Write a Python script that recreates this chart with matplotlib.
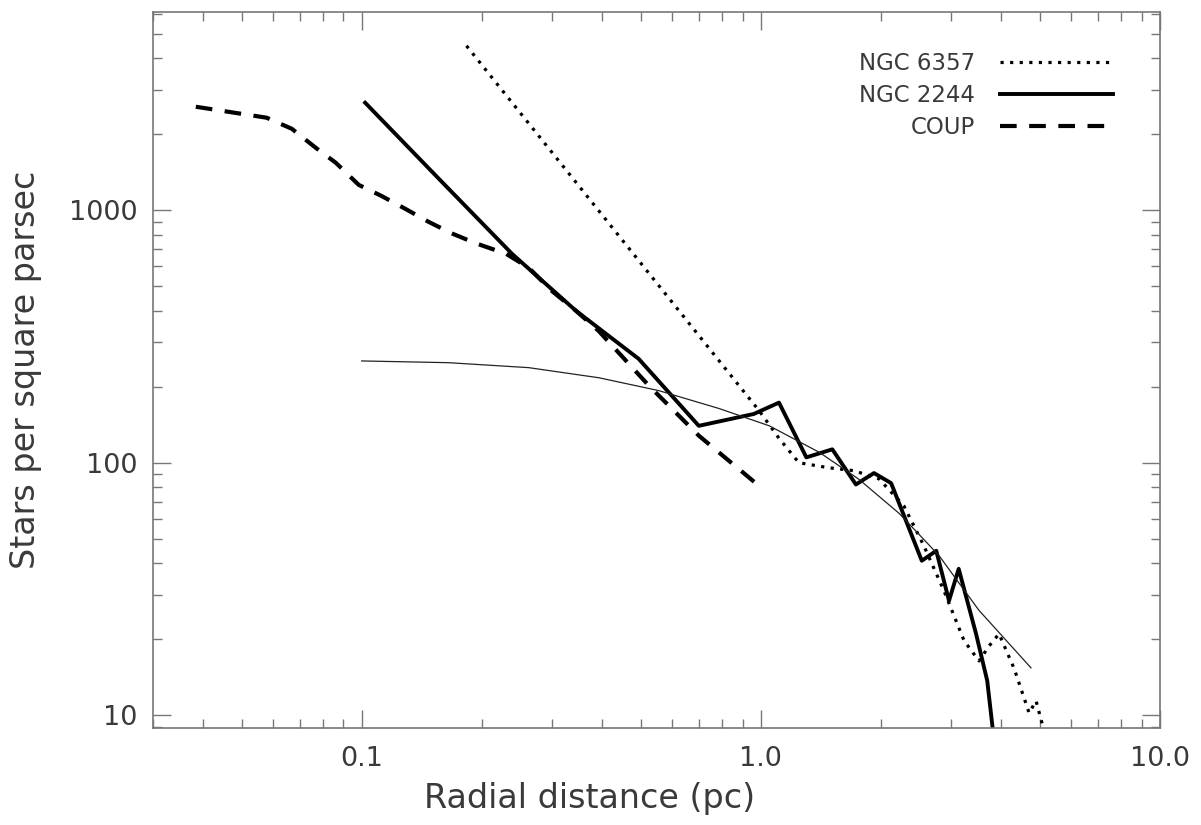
import matplotlib
matplotlib.use('Agg')
import matplotlib.pyplot as plt
from matplotlib.ticker import FixedLocator, FixedFormatter, LogLocator, NullFormatter

# NGC 6357 surface density (dotted)
ngc6357_r = [0.183, 0.989, 1.11, 1.245, 1.48, 1.71, 1.975, 2.28, 2.56, 2.875,
             3.23, 3.52, 3.73, 3.95, 4.31, 4.70, 4.89, 5.12]
ngc6357_n = [4480, 161, 125, 100, 95.5, 93, 86.4, 67.6, 46.9, 31.1,
             19.7, 16.4, 18.8, 21.0, 15.3, 10.2, 11.4, 8.7]

# NGC 2244 (thick solid)
ngc2244_r = [0.102, 0.156, 0.238, 0.344, 0.494, 0.699, 0.960, 1.11, 1.30, 1.51,
             1.73, 1.92, 2.12, 2.53, 2.75, 2.96, 3.13, 3.46, 3.69, 3.84]
ngc2244_n = [2666, 1333, 672, 400, 258, 140, 156, 173, 105, 113,
             82, 91, 83, 40.9, 44.8, 28.4, 38.0, 21.0, 13.7, 7.9]

# COUP (dashed)
coup_r = [0.0384, 0.0578, 0.0668, 0.0767, 0.0861, 0.0983, 0.112, 0.129, 0.147, 0.168,
          0.193, 0.230, 0.262, 0.299, 0.344, 0.392, 0.524, 0.699, 0.989]
coup_n = [2570, 2325, 2102, 1768, 1542, 1260, 1140, 1010, 900, 810,
          740, 672, 592, 480, 400, 333, 202, 128, 81]

# thin model curve
fit_r = [0.1, 0.165, 0.262, 0.393, 0.555, 0.785, 1.05, 1.40, 1.76, 2.22, 2.79, 3.52, 4.75]
fit_n = [253, 249, 238, 217, 193, 164, 140, 110, 86, 63, 43, 26, 15.4]

x_ticks = [0.1, 1.0, 10.0]
x_labels = ['0.1', '1.0', '10.0']
y_ticks = [10, 100, 1000]
y_labels = ['10', '100', '1000']

txt = '#3a3a3a'
axc = '#777777'

fig = plt.figure(figsize=(12.01, 8.25), dpi=100)
ax = fig.add_axes([0.1274, 0.1176, 0.8385, 0.8679])
ax.set_xscale('log')
ax.set_yscale('log')

h1, = ax.plot(ngc6357_r, ngc6357_n, color='black', lw=2.3, linestyle=(0, (1, 2)),
              label='NGC 6357')
h2, = ax.plot(ngc2244_r, ngc2244_n, color='black', lw=2.8, label='NGC 2244')
h3, = ax.plot(coup_r, coup_n, color='black', lw=3, linestyle=(0, (4, 3)), label='COUP')
ax.plot(fit_r, fit_n, color='#222222', lw=0.9)

ax.set_xlim(0.03, 10)
ax.set_ylim(8.9, 6100)

ax.xaxis.set_major_locator(FixedLocator(x_ticks))
ax.xaxis.set_major_formatter(FixedFormatter(x_labels))
ax.yaxis.set_major_locator(FixedLocator(y_ticks))
ax.yaxis.set_major_formatter(FixedFormatter(y_labels))
for a in (ax.xaxis, ax.yaxis):
    a.set_minor_locator(LogLocator(base=10, subs=range(2, 10)))
    a.set_minor_formatter(NullFormatter())

ax.tick_params(which='both', direction='in', top=True, right=True, color=axc, width=1)
ax.tick_params(which='major', length=13, labelsize=19.5, labelcolor=txt)
ax.tick_params(which='minor', length=6.5)
ax.tick_params(axis='x', which='major', pad=13)
ax.tick_params(axis='y', which='major', pad=11)
for s in ax.spines.values():
    s.set_color(axc)
    s.set_linewidth(1.2)

ax.set_xlabel('Radial distance (pc)', fontsize=24, color=txt)
ax.xaxis.set_label_coords(0.434, -0.075)
ax.set_ylabel('Stars per square parsec', fontsize=24, color=txt)
ax.yaxis.set_label_coords(-0.11, 0.5)

leg = ax.legend(handles=[h1, h2, h3], loc='upper right', bbox_to_anchor=(0.953, 0.944),
                frameon=False, markerfirst=False, fontsize=16.5, borderpad=0,
                borderaxespad=0, handlelength=4.9, handletextpad=1.1, labelspacing=0.4)
for t in leg.get_texts():
    t.set_color(txt)

fig.savefig('out.png', dpi=100)
